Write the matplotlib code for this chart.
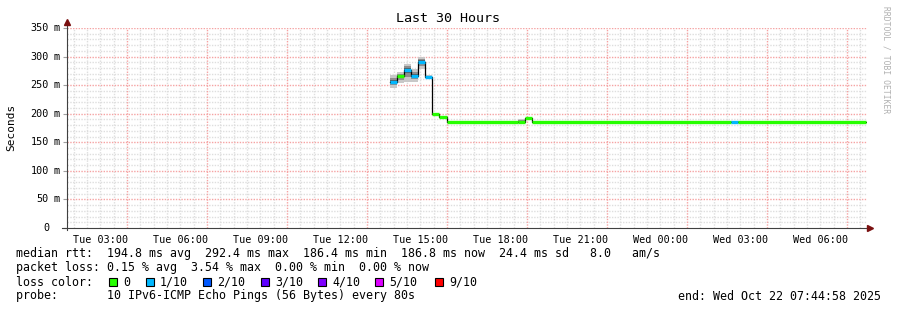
import matplotlib
matplotlib.use("Agg")
import matplotlib.pyplot as plt
import matplotlib.transforms as mtransforms
from matplotlib.patches import Rectangle
import numpy as np

# ---- data (hours since Tue 00:00, values in ms) ----
step_start = [13.85, 14.117, 14.383, 14.65, 14.917, 15.183, 15.45, 15.717,
              15.983, 18.65, 18.917, 19.183, 26.65, 26.917]
data_end = 31.72
median_ms = [256, 266, 277, 266, 291, 265, 199, 195, 186, 186, 192, 186, 186, 186]
loss_idx = [1, 0, 1, 1, 1, 1, 0, 0, 0, 0, 0, 0, 1, 0]
smoke_lo = [245, 253, 256, 256, 279, 263, 198, 194, 186, 186, 191, 186, 186, 186]
smoke_hi = [267, 273, 287, 279, 300, 267, 200, 196, 187, 190, 193, 187, 187, 187]

loss_labels = ["0", "1/10", "2/10", "3/10", "4/10", "5/10", "9/10"]
loss_colors = ["#26ff00", "#00b8ff", "#0059ff", "#5e00ff", "#7e00ff", "#dd00ff", "#ff0000"]

x_tick_hours = [3, 6, 9, 12, 15, 18, 21, 24, 27, 30]
x_tick_labels = ["Tue 03:00", "Tue 06:00", "Tue 09:00", "Tue 12:00", "Tue 15:00",
                 "Tue 18:00", "Tue 21:00", "Wed 00:00", "Wed 03:00", "Wed 06:00"]
y_tick_values = [0, 50, 100, 150, 200, 250, 300, 350]

rtt_line = "median rtt:  194.8 ms avg  292.4 ms max  186.4 ms min  186.8 ms now  24.4 ms sd   8.0   am/s"
loss_line = "packet loss: 0.15 % avg  3.54 % max  0.00 % min  0.00 % now"
probe_line = "probe:       10 IPv6-ICMP Echo Pings (56 Bytes) every 80s"
end_line = "end: Wed Oct 22 07:44:58 2025"

W, H = 897, 310
MONO = "DejaVu Sans Mono"


def fpos(x, y):
    return x / W, 1 - y / H


fig = plt.figure(figsize=(W / 100, H / 100), dpi=100)
fig.patch.set_facecolor("white")
ax = fig.add_axes([67 / W, (H - 228) / H, 800 / W, 200 / H])
ax.set_xlim(1.75, 31.75)
ax.set_ylim(0, 350)
for s in ax.spines.values():
    s.set_visible(False)

# grid: minor every 30 min / 10 ms, major every 3 h / 50 ms
MAJ, MIN = "#f5a3a3", "#dedede"
for h in np.arange(2.0, 31.75, 0.5):
    major = abs((h - 4) % 3) < 1e-6
    ax.axvline(h, color=MAJ if major else MIN, lw=1.0,
               ls=(0, (1, 1)), zorder=1 if major else 0, snap=True)
for v in range(10, 351, 10):
    major = v % 50 == 0
    ax.axhline(v, color=MAJ if major else MIN, lw=1.0,
               ls=(0, (1, 1)), zorder=1 if major else 0, snap=True)

# smoke
edges = step_start + [data_end]
widths = np.diff(edges)
lo = np.array(smoke_lo, float)
hi = np.array(smoke_hi, float)
med = np.array(median_ms, float)
ax.bar(step_start, hi - lo, bottom=lo, width=widths, align="edge",
       color="#c8c8c8", lw=0, zorder=2)
in_lo = lo + (med - lo) * 0.4
in_hi = hi - (hi - med) * 0.4
ax.bar(step_start, in_hi - in_lo, bottom=in_lo, width=widths, align="edge",
       color="#8e8e8e", lw=0, zorder=2)
c_lo = med - (med - lo) * 0.25
c_hi = med + (hi - med) * 0.25
ax.bar(step_start, c_hi - c_lo, bottom=c_lo, width=widths, align="edge",
       color="#5a5a5a", lw=0, zorder=2)

# median: black connector + loss-coloured steps
ax.step(edges, median_ms + [median_ms[-1]], where="post", color="black",
        lw=0.9, zorder=3)
ax.hlines(median_ms, step_start, edges[1:],
          colors=[loss_colors[i] for i in loss_idx], lw=2.4, zorder=4)

# axes lines with arrows
ax.plot([0, 0], [-0.01, 1.03], transform=ax.transAxes, color="#404040",
        lw=0.8, clip_on=False, zorder=5)
ax.plot([-0.006, 1.003], [0, 0], transform=ax.transAxes, color="#404040",
        lw=0.8, clip_on=False, zorder=5)
ax.plot([0], [1.03], marker="^", ms=4, color="#7a1010", transform=ax.transAxes,
        clip_on=False, zorder=6)
ax.plot([1.004], [0], marker=">", ms=4, color="#7a1010", transform=ax.transAxes,
        clip_on=False, zorder=6)

# ticks
ax.set_xticks(x_tick_hours)
ax.set_xticklabels(x_tick_labels, fontfamily=MONO, fontsize=7.3)
ax.tick_params(axis="x", length=0, pad=5)
ax.set_yticks(y_tick_values)
ax.set_yticklabels([])
ax.tick_params(axis="y", length=3, color="#a0a0a0", width=0.8)
trans = mtransforms.blended_transform_factory(ax.transAxes, ax.transData)
for v in y_tick_values:
    ax.text(-18 / 800, v, str(v), transform=trans, ha="right", va="center",
            fontfamily=MONO, fontsize=7.3)
    if v:
        ax.text(-13 / 800, v, "m", transform=trans, ha="left", va="center",
                fontfamily=MONO, fontsize=7.3)

# titles
fig.text(*fpos(448, 19), "Last 30 Hours", ha="center", va="center",
         fontfamily=MONO, fontsize=9.6)
fig.text(*fpos(11, 127), "Seconds", ha="center", va="center", rotation=90,
         fontfamily=MONO, fontsize=8)
fig.text(*fpos(886, 60), "RRDTOOL / TOBI OETIKER", ha="center", va="center",
         rotation=270, fontfamily=MONO, fontsize=5.8, color="#b0b0b0")

# legend block
fs = 8.4
fig.text(*fpos(16, 254), rtt_line, ha="left", va="center", fontfamily=MONO, fontsize=fs)
fig.text(*fpos(16, 268), loss_line, ha="left", va="center", fontfamily=MONO, fontsize=fs)
fig.text(*fpos(16, 282), "loss color:", ha="left", va="center", fontfamily=MONO, fontsize=fs)
box_x = [109, 146, 203, 261, 318, 375, 435]
for bx, lab, col in zip(box_x, loss_labels, loss_colors):
    fig.add_artist(Rectangle(fpos(bx, 286), 8 / W, 8 / H, transform=fig.transFigure,
                             facecolor=col, edgecolor="black", lw=0.8))
    fig.text(*fpos(bx + 14, 282), lab, ha="left", va="center", fontfamily=MONO, fontsize=fs)
fig.text(*fpos(16, 296), probe_line, ha="left", va="center", fontfamily=MONO, fontsize=fs)
fig.text(*fpos(881, 296), end_line, ha="right", va="center", fontfamily=MONO, fontsize=fs)

fig.savefig("out.png", dpi=100, facecolor="white")
